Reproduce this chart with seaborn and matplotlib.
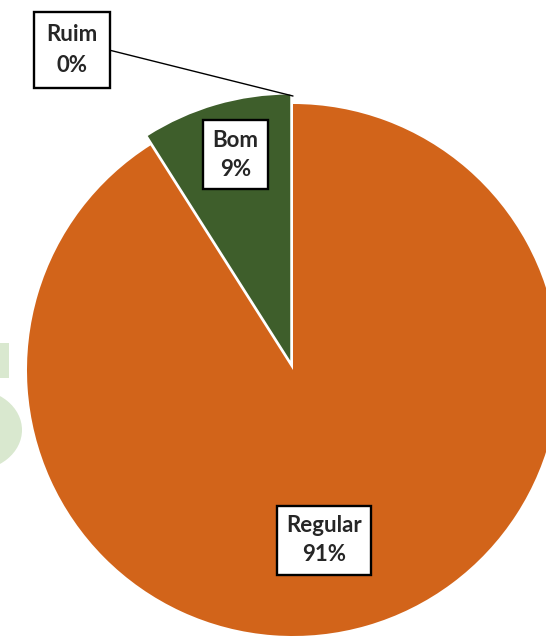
import numpy as np
import matplotlib
matplotlib.use('Agg')
import matplotlib.pyplot as plt
from matplotlib.patches import Ellipse, Rectangle
import seaborn as sns

# data
categories = ['Regular', 'Bom', 'Ruim']
values = [91, 9, 0]
colors = ['#D2641A', '#3E5E2B', '#A5A5A5']
explode = [0, 0.037, 0]

sns.set_style('white')
plt.rcParams['font.family'] = ['Lato', 'DejaVu Sans']

fig = plt.figure(figsize=(5.46, 6.38), dpi=100)
ax = fig.add_axes([0, 0, 1, 1])

# faint logo watermark peeking out on the left, behind the pie
px = 1 / 266
ax.add_patch(Rectangle((-293 * px, (370 - 378) * px), 9 * px, 35 * px,
                       facecolor='#d9e8cf', edgecolor='none', zorder=0))
ax.add_patch(Ellipse(((-28 - 293) * px, (370 - 430) * px), 100 * px, 82 * px,
                     facecolor='#d9e8cf', edgecolor='none', zorder=0))

wedges, _ = ax.pie(values, colors=colors, explode=explode, startangle=90,
                   counterclock=False, radius=1.0,
                   wedgeprops=dict(linewidth=0))
for w in wedges:
    w.set_zorder(2)

total = sum(values)
box = dict(boxstyle='square,pad=0.42', facecolor='white', edgecolor='black', linewidth=1.7)
label_pos = {'Regular': (0.65, -79.7), 'Bom': (0.80, 104.9)}

for w, cat, v in zip(wedges, categories, values):
    pct = f'{cat}\n{v / total * 100:.0f}%'
    mid = np.deg2rad((w.theta1 + w.theta2) / 2)
    cx, cy = w.center
    if cat == 'Ruim':
        tip = (cx + w.r * 1.03 * np.cos(mid), cy + w.r * 1.03 * np.sin(mid))
        ax.annotate(pct, xy=tip, xytext=(-0.831, 1.203), ha='center', va='center',
                    fontsize=16, fontweight='bold', bbox=dict(box, boxstyle='square,pad=0.55'),
                    linespacing=1.55,
                    arrowprops=dict(arrowstyle='-', color='black', lw=1,
                                    shrinkA=0, shrinkB=0,
                                    connectionstyle='arc,angleA=0,armA=37,angleB=0,armB=0,rad=0'),
                    zorder=5)
    else:
        d, a = label_pos[cat]
        ang = np.deg2rad(a)
        ax.text(cx + d * np.cos(ang), cy + d * np.sin(ang), pct, ha='center', va='center',
                fontsize=16, fontweight='bold', bbox=box, linespacing=1.5, zorder=5)

ax.set_xlim(-293 / 266, (546 - 293) / 266)
ax.set_ylim(-(638 - 370) / 266, 370 / 266)
ax.set_aspect('auto')
ax.axis('off')

fig.savefig('out.png', dpi=100)
